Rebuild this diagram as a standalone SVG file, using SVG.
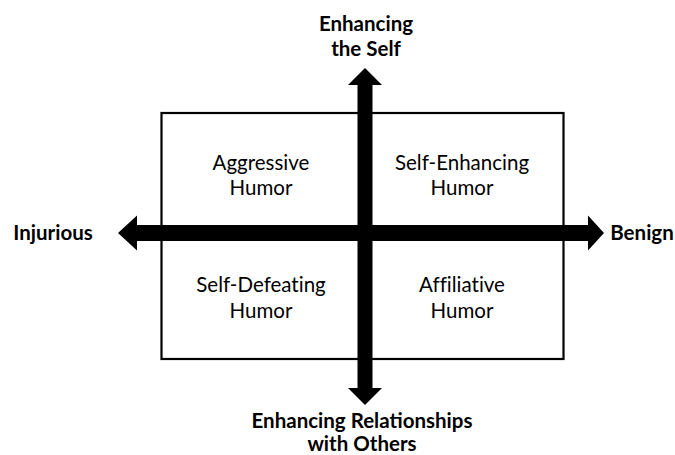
<svg xmlns="http://www.w3.org/2000/svg" width="675" height="455" viewBox="0 0 675 455">
<style>
.b{font-family:Lato,"Open Sans","Liberation Sans",sans-serif;font-weight:bold;font-size:20.5px;fill:#000;text-anchor:middle}
.r{font-family:Lato,"Open Sans","Liberation Sans",sans-serif;font-size:20.5px;fill:#000;text-anchor:middle;font-variant-ligatures:none}
</style>
<rect width="675" height="455" fill="#fff"/>
<g id="frame"><rect x="161.5" y="113" width="402" height="246" fill="none" stroke="#000" stroke-width="2.2"/></g>
<g id="connectors">
<polygon points="118,233 137,215.5 137,225 588,225 588,215.5 604,233 588,250.5 588,241 137,241 137,250.5" fill="#000"/>
<polygon points="365,68 382,85 372.5,85 372.5,388 382,388 365,405 348,388 357.5,388 357.5,85 348,85" fill="#000"/>
</g>
<g id="top-label"><text class="b" x="366" y="31">Enhancing</text><text class="b" x="366" y="56">the Self</text></g>
<g id="bottom-label"><text class="b" x="362" y="428">Enhancing Relationships</text><text class="b" x="362" y="451">with Others</text></g>
<g id="left-label"><text class="b" x="53" y="240">Injurious</text></g>
<g id="right-label"><text class="b" x="642" y="240">Benign</text></g>
<g id="aggressive"><text class="r" x="261" y="170">Aggressive</text><text class="r" x="261" y="195">Humor</text></g>
<g id="self-enhancing"><text class="r" x="462" y="170">Self-Enhancing</text><text class="r" x="462" y="195">Humor</text></g>
<g id="self-defeating"><text class="r" x="261" y="292">Self-Defeating</text><text class="r" x="261" y="318">Humor</text></g>
<g id="affiliative"><text class="r" x="462" y="292">Affiliative</text><text class="r" x="462" y="318">Humor</text></g>
</svg>
